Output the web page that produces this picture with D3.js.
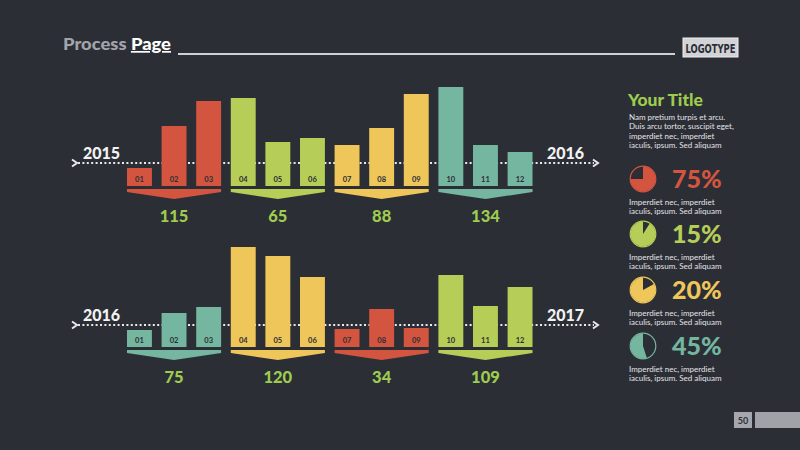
<!DOCTYPE html>
<html><head><meta charset="utf-8">
<script src="https://cdn.jsdelivr.net/npm/d3@7"></script>
<style>html,body{margin:0;padding:0;background:#2c2e36;}svg{display:block;}</style>
</head><body>
<svg id="c" width="800" height="450"></svg>
<script>
const months = ["01","02","03","04","05","06","07","08","09","10","11","12"];
const values2015 = [18, 60, 85, 88, 44, 48, 41, 58, 92, 99, 41, 34];
const values2016 = [17, 34, 40, 100, 91, 70, 18, 38, 19, 72, 41, 60];
const totals2015 = ["115", "65", "88", "134"];
const totals2016 = ["75", "120", "34", "109"];
const groupColors2015 = ["#d4553f", "#b6cd58", "#eec65a", "#74b6a0"];
const groupColors2016 = ["#74b6a0", "#eec65a", "#d4553f", "#b6cd58"];
const yearLabels = [["2015", "2016"], ["2016", "2017"]];
const pieValues = [[0, 0.75], [0.09, 1], [0.17, 1], [0.45, 1]];
const pieLabels = ["75%", "15%", "20%", "45%"];
const pieColors = ["#d4553f", "#b6cd58", "#eec65a", "#74b6a0"];
const introLines = ["Nam pretium turpis et arcu.", "Duis arcu tortor, suscipit eget,", "imperdiet nec, imperdiet", "iaculis, ipsum. Sed aliquam"];
const pieTextLines = ["Imperdiet nec, imperdiet", "iaculis, ipsum. Sed aliquam"];

const svg = d3.select("#c");
svg.append("rect").attr("width", 800).attr("height", 450).attr("fill", "#2c2e36");

// Header
const head = svg.append("text").attr("x", 63).attr("y", 50)
  .attr("font-family", "Lato").attr("font-weight", 900).attr("font-size", 17)
  .attr("textLength", 108).attr("lengthAdjust", "spacingAndGlyphs");
head.append("tspan").attr("fill", "#a3a4ab").text("Process ");
head.append("tspan").attr("fill", "#ffffff").attr("text-decoration", "underline").text("Page");
svg.append("rect").attr("x", 178).attr("y", 53).attr("width", 497).attr("height", 2).attr("fill", "#cfd0d3");
svg.append("rect").attr("x", 683).attr("y", 38).attr("width", 55).attr("height", 19).attr("fill", "#d2d3d6").attr("stroke", "#eeeeee").attr("stroke-width", 1);
svg.append("text").attr("x", 710.5).attr("y", 52.5).attr("text-anchor", "middle")
  .attr("font-family", "Liberation Sans Narrow, DejaVu Sans Condensed, sans-serif").attr("font-weight", 700)
  .attr("font-size", 13).attr("fill", "#2c2e36").attr("textLength", 50).attr("lengthAdjust", "spacingAndGlyphs").text("LOGOTYPE");

// Footer
svg.append("rect").attr("x", 734).attr("y", 412).attr("width", 18).attr("height", 16).attr("fill", "#a6a7ad");
svg.append("text").attr("x", 743).attr("y", 424).attr("text-anchor", "middle").attr("font-family", "Lato")
  .attr("font-weight", 700).attr("font-size", 9).attr("fill", "#2c2e36").text("50");
svg.append("rect").attr("x", 755).attr("y", 412).attr("width", 45).attr("height", 16).attr("fill", "#a1a2a8");

const x = d3.scaleBand().domain(months).range([117.3, 542.2]).padding(0.28);

function drawChart(cfg) {
  const g = svg.append("g");
  const y = d3.scaleLinear().domain([0, 100]).range([cfg.base, cfg.base - 100]);
  // dotted axis
  g.append("line").attr("x1", 78).attr("x2", 594).attr("y1", cfg.axis).attr("y2", cfg.axis)
    .attr("stroke", "#e9e9ea").attr("stroke-width", 2).attr("stroke-dasharray", "2,2.4");
  [[72, cfg.axis], [593, cfg.axis]].forEach(([ax, ay]) => {
    g.append("path").attr("d", `M${ax},${ay - 3.5} L${ax + 5},${ay} L${ax},${ay + 3.5}`)
      .attr("fill", "none").attr("stroke", "#e9e9ea").attr("stroke-width", 2);
  });
  // year labels
  g.append("text").attr("x", 83).attr("y", cfg.axis - 4).attr("font-family", "Lato").attr("font-weight", 900)
    .attr("font-size", 16).attr("fill", "#f2f2f2").text(cfg.years[0]);
  g.append("text").attr("x", 547).attr("y", cfg.axis - 4).attr("font-family", "Lato").attr("font-weight", 900)
    .attr("font-size", 16).attr("fill", "#f2f2f2").text(cfg.years[1]);
  // bars
  g.selectAll("rect.bar").data(cfg.values).join("rect").attr("class", "bar")
    .attr("x", (d, i) => x(months[i])).attr("width", x.bandwidth())
    .attr("y", d => y(d)).attr("height", d => cfg.base - y(d))
    .attr("fill", (d, i) => cfg.colors[Math.floor(i / 3)]);
  g.selectAll("text.ml").data(months).join("text").attr("class", "ml")
    .attr("x", d => x(d) + x.bandwidth() / 2).attr("y", cfg.base - 4).attr("text-anchor", "middle")
    .attr("font-family", "Lato").attr("font-weight", 700).attr("font-size", 7.5).attr("fill", "#2c2e36").text(d => d);
  // chevrons and totals
  cfg.totals.forEach((t, k) => {
    const x0 = x(months[k * 3]), x1 = x(months[k * 3 + 2]) + x.bandwidth(), xc = (x0 + x1) / 2;
    const top = cfg.base + 3;
    g.append("path").attr("d", `M${x0},${top} L${x1},${top} L${x1},${top + 3} L${xc},${top + 10} L${x0},${top + 3}Z`)
      .attr("fill", cfg.colors[k]);
    g.append("text").attr("x", xc).attr("y", cfg.base + 36).attr("text-anchor", "middle")
      .attr("font-family", "Lato").attr("font-weight", 900).attr("font-size", 16.5).attr("fill", "#9dcc4e").text(t);
  });
}
drawChart({ base: 186, axis: 163, values: values2015, colors: groupColors2015, totals: totals2015, years: yearLabels[0] });
drawChart({ base: 347, axis: 325, values: values2016, colors: groupColors2016, totals: totals2016, years: yearLabels[1] });

// Right panel
svg.append("text").attr("x", 628).attr("y", 106).attr("font-family", "Lato").attr("font-weight", 900)
  .attr("font-size", 17.5).attr("fill", "#9dcc4e").text("Your Title");
introLines.forEach((l, i) => {
  svg.append("text").attr("x", 629).attr("y", 120 + i * 9.3).attr("font-family", "Lato").attr("font-size", 8)
    .attr("fill", "#e4e4e6").text(l);
});
const pieCenters = [179, 234, 290, 346];
const arc = d3.arc().innerRadius(0).outerRadius(12.5);
pieValues.forEach((pv, i) => {
  const cy = pieCenters[i], cx = 643;
  svg.append("circle").attr("cx", cx).attr("cy", cy).attr("r", 12.8).attr("fill", "#2c2e36")
    .attr("stroke", pieColors[i]).attr("stroke-width", 1.2);
  svg.append("path").attr("transform", `translate(${cx},${cy})`)
    .attr("d", arc({ startAngle: pv[0] * 2 * Math.PI, endAngle: pv[1] * 2 * Math.PI })).attr("fill", pieColors[i]);
  svg.append("text").attr("x", 672).attr("y", cy + 9).attr("font-family", "Lato").attr("font-weight", 900)
    .attr("font-size", 25).attr("fill", pieColors[i]).text(pieLabels[i]);
  pieTextLines.forEach((l, j) => {
    svg.append("text").attr("x", 629).attr("y", cy + 26 + j * 9.3).attr("font-family", "Lato").attr("font-size", 8)
      .attr("fill", "#e4e4e6").text(l);
  });
});
</script>
</body></html>
